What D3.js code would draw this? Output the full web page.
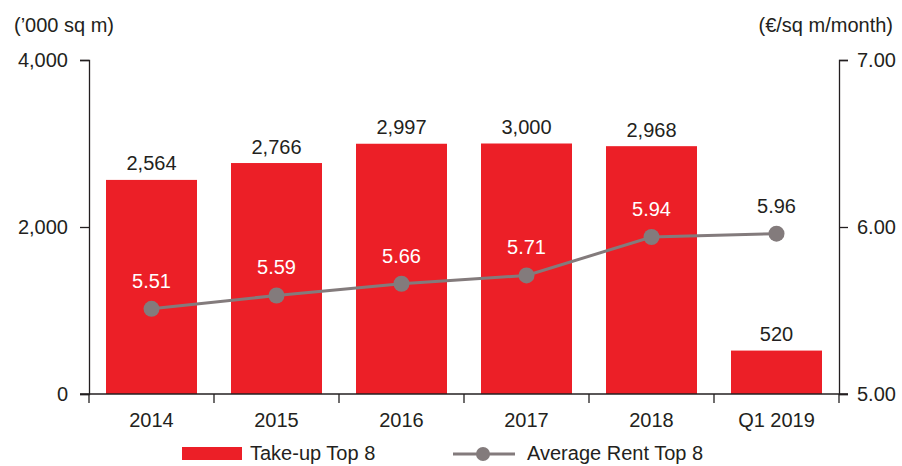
<!DOCTYPE html>
<html>
<head>
<meta charset="utf-8">
<script src="https://cdn.jsdelivr.net/npm/d3@7"></script>
<style>
  body { margin: 0; background: #fff; }
  text { font-family: "Liberation Sans", Arial, sans-serif; fill: #231f20; }
</style>
</head>
<body>
<div id="container"></div>
<script>
var w = 902,
    h = 466;

// data
var categories = ['2014', '2015', '2016', '2017', '2018', 'Q1 2019'];
var takeUp = [2564, 2766, 2997, 3000, 2968, 520];
var rent = [5.51, 5.59, 5.66, 5.71, 5.94, 5.96];
var leftTicks = [0, 2000, 4000];
var rightTicks = [5, 6, 7];

var red = '#ec1f27',
    grey = '#837b7c',
    fs = '20px';

var svg = d3.select('#container')
    .append('svg')
    .attr('width', w)
    .attr('height', h);

var x = d3.scaleBand()
    .domain(categories)
    .range([89, 839])
    .paddingInner(0.272)
    .paddingOuter(0.136);

var yL = d3.scaleLinear().domain([0, 4000]).range([394, 60]);
var yR = d3.scaleLinear().domain([5, 7]).range([394, 60]);

// bars
svg.selectAll('.bar')
    .data(takeUp)
    .enter()
    .append('rect')
    .attr('class', 'bar')
    .attr('x', function(d, i) { return x(categories[i]); })
    .attr('width', x.bandwidth())
    .attr('y', function(d) { return yL(d); })
    .attr('height', function(d) { return yL(0) - yL(d); })
    .attr('fill', red);

// bar labels
svg.selectAll('.barlabel')
    .data(takeUp)
    .enter()
    .append('text')
    .attr('class', 'barlabel')
    .attr('x', function(d, i) { return x(categories[i]) + x.bandwidth() / 2; })
    .attr('y', function(d) { return yL(d) - 9.5; })
    .attr('text-anchor', 'middle')
    .style('font-size', fs)
    .text(function(d) { return d3.format(',')(d); });

// axes
var axisL = svg.append('g')
    .attr('transform', 'translate(89,0)')
    .call(d3.axisLeft(yL).tickValues(leftTicks).tickFormat(d3.format(',')).tickSize(9).tickPadding(12));
var axisR = svg.append('g')
    .attr('transform', 'translate(839,0)')
    .call(d3.axisRight(yR).tickValues(rightTicks).tickFormat(d3.format('.2f')).tickSize(9).tickPadding(9));

var xTicks = d3.range(categories.length + 1).map(function(i) {
    return 89 + i * x.step();
});
svg.append('line')
    .attr('x1', 80).attr('x2', 848)
    .attr('y1', 394).attr('y2', 394)
    .attr('stroke', '#231f20').attr('stroke-width', 1.3);
svg.selectAll('.xtick')
    .data(xTicks)
    .enter()
    .append('line')
    .attr('x1', function(d) { return d; })
    .attr('x2', function(d) { return d; })
    .attr('y1', 394).attr('y2', 403)
    .attr('stroke', '#231f20').attr('stroke-width', 1.3);
svg.selectAll('.xlabel')
    .data(categories)
    .enter()
    .append('text')
    .attr('x', function(d) { return x(d) + x.bandwidth() / 2; })
    .attr('y', 426.5)
    .attr('text-anchor', 'middle')
    .style('font-size', fs)
    .text(function(d) { return d; });

[axisL, axisR].forEach(function(a) {
    a.select('.domain').attr('stroke', '#231f20').attr('stroke-width', 1.3);
    a.selectAll('line').attr('stroke', '#231f20').attr('stroke-width', 1.3);
    a.selectAll('text').style('font-size', fs).attr('fill', '#231f20')
        .style('font-family', '"Liberation Sans", Arial, sans-serif');
});

// axis titles
svg.append('text').attr('x', 14).attr('y', 32).style('font-size', fs).text('(\u2019000 sq m)');
svg.append('text').attr('x', 893).attr('y', 32).attr('text-anchor', 'end')
    .style('font-size', fs).text('(\u20ac/sq m/month)');

// rent line
var line = d3.line()
    .x(function(d, i) { return x(categories[i]) + x.bandwidth() / 2; })
    .y(function(d) { return yR(d); });

svg.append('path')
    .datum(rent)
    .attr('d', line)
    .attr('fill', 'none')
    .attr('stroke', grey)
    .attr('stroke-width', 3);

svg.selectAll('.dot')
    .data(rent)
    .enter()
    .append('circle')
    .attr('cx', function(d, i) { return x(categories[i]) + x.bandwidth() / 2; })
    .attr('cy', function(d) { return yR(d); })
    .attr('r', 8)
    .attr('fill', grey);

svg.selectAll('.rentlabel')
    .data(rent)
    .enter()
    .append('text')
    .attr('x', function(d, i) { return x(categories[i]) + x.bandwidth() / 2; })
    .attr('y', function(d) { return yR(d) - 21; })
    .attr('text-anchor', 'middle')
    .style('font-size', fs)
    .style('fill', function(d, i) { return yR(d) - 21 > yL(takeUp[i]) ? '#fff' : '#231f20'; })
    .text(function(d) { return d3.format('.2f')(d); });

// legend
var legend = svg.append('g');
legend.append('rect')
    .attr('x', 182).attr('y', 447).attr('width', 60).attr('height', 13)
    .attr('fill', red);
legend.append('text').attr('x', 250).attr('y', 460).style('font-size', fs).text('Take-up Top 8');
legend.append('line')
    .attr('x1', 453).attr('x2', 515).attr('y1', 454).attr('y2', 454)
    .attr('stroke', grey).attr('stroke-width', 3);
legend.append('circle').attr('cx', 483).attr('cy', 454).attr('r', 7).attr('fill', grey);
legend.append('text').attr('x', 527).attr('y', 460).style('font-size', fs).text('Average Rent Top 8');
</script>
</body>
</html>
